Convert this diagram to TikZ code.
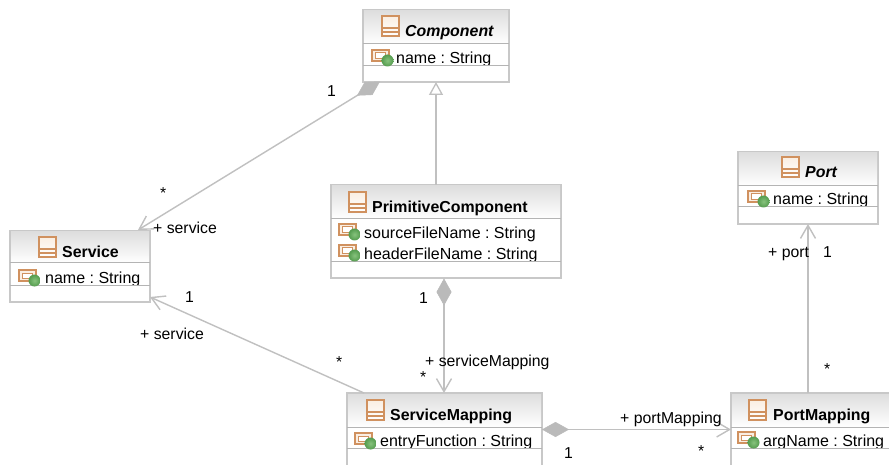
\documentclass[tikz,border=0pt]{standalone}
\usepackage{fontspec}
\setmainfont{Liberation Sans}
\usetikzlibrary{arrows.meta}
\definecolor{edgegray}{RGB}{192,192,192}
\definecolor{boxgray}{RGB}{200,200,200}
\definecolor{sepgray}{RGB}{180,180,180}
\definecolor{headgray}{RGB}{222,222,222}
\definecolor{iconorange}{RGB}{208,145,95}
\definecolor{iconfill}{RGB}{250,238,226}
\definecolor{dotgreen}{RGB}{84,155,78}
\definecolor{dotlight}{RGB}{135,195,125}
\definecolor{diagray}{RGB}{186,186,186}
\tikzset{
  classbox/.style={draw=boxgray,line width=1.3pt,fill=white,inner sep=0pt,outer sep=0pt,rectangle},
  sepline/.style={draw=sepgray,line width=1pt},
  conn/.style={draw=edgegray,line width=1.4pt},
  comp/.style={conn,{Diamond[fill=diagray,color=diagray,length=27pt,width=15pt,line width=0.5pt]}-{Straight Barb[length=13pt,width=15pt,line width=1.4pt,color=edgegray]}},
  assoc/.style={conn,-{Straight Barb[length=13pt,width=15pt,line width=1.4pt,color=edgegray]}},
  inherit/.style={conn,-{Triangle[open,fill=white,length=13pt,width=14pt,line width=1.3pt,color=edgegray]}},
  lbl/.style={font=\fontsize{15.8}{17}\selectfont,inner sep=0pt,anchor=base west,text=black,yshift=-0.8pt},
  title/.style={font=\fontsize{15.9}{17}\selectfont\bfseries,inner sep=0pt,anchor=base west,text=black,yshift=-0.8pt},
  ititle/.style={font=\fontsize{15.9}{17}\selectfont\bfseries\itshape,inner sep=0pt,anchor=base west,text=black,yshift=-0.8pt},
  attr/.style={font=\fontsize{16}{17}\selectfont,inner sep=0pt,anchor=base west,text=black,yshift=-0.8pt},
}
% id, x1, y1, x2, y2, yheader, yattr
\newcommand{\umlclass}[7]{%
  \pgfmathsetmacro{\bw}{#4-#2}\pgfmathsetmacro{\bh}{#5-#3}%
  \node[classbox,minimum width=\bw pt,minimum height=\bh pt] (#1) at ({(#2+#4)/2},{(#3+#5)/2}) {};
  \shade[top color=headgray,bottom color=white] (#2+1,#3+1) rectangle (#4-1,#6);
}
% finishes compartment: x1,x2,yheader,yattr,y2
\newcommand{\umlseps}[5]{%
  \fill[white] (#1+1,#4) rectangle (#2-1,#5-1);
  \draw[sepline] (#1,#3) -- (#2,#3);
  \draw[sepline] (#1,#4) -- (#2,#4);
}
% class icon at x,y top-left
\newcommand{\classicon}[2]{%
  \begin{scope}[shift={(#1,#2)}]
    \shade[top color=iconfill,bottom color=white] (0,0) rectangle (17,20);
    \draw[draw=iconorange,line width=1.1pt] (0,0) rectangle (17,20);
    \draw[draw=iconorange,line width=1.1pt] (0,12) -- (17,12) (0,16) -- (17,16);
  \end{scope}}
% attribute icon at x,y top-left
\newcommand{\attricon}[2]{%
  \begin{scope}[shift={(#1,#2)}]
    \draw[draw=iconorange,line width=1.3pt,fill=iconfill] (0,0) rectangle (17,11);
    \draw[draw=iconorange,line width=1pt,fill=white] (3.5,3) rectangle (13.5,8.5);
    \shade[inner color=dotlight,outer color=dotgreen] (15.5,10.5) circle (6);
  \end{scope}}
\begin{document}
\begin{tikzpicture}[x=1pt,y=-1pt]
\frenchspacing
\clip (0,0) rectangle (889,465);
\fill[white] (0,0) rectangle (889,465);

% Component
\umlclass{component}{363}{10}{509}{82}{44}{66}
\classicon{382}{16}
\node[ititle] (componentT) at (405,36) {Component};
\node[attr] (componentA) at (396,63) {name : String};
\umlseps{363}{509}{44}{66}{82}
\attricon{372}{50}

% Primitive component
\umlclass{primitive}{331}{185}{561}{278}{219}{262}
\classicon{349}{192}
\node[title] (primitiveT) at (372,212) {PrimitiveComponent};
\node[attr] (primitiveA) at (364,238) {sourceFileName : String};
\node[attr] (primitiveB) at (364,259) {headerFileName : String};
\umlseps{331}{561}{219}{262}{278}
\attricon{339}{224}
\attricon{339}{245}

% Service
\umlclass{service}{10}{231}{150}{302}{263}{285}
\classicon{39}{237}
\node[title] (serviceT) at (62,257) {Service};
\node[attr] (serviceA) at (45,283) {name : String};
\umlseps{10}{150}{263}{285}{302}
\attricon{19}{270}

% Port
\umlclass{port}{738}{152}{878}{224}{186}{207}
\classicon{782}{157}
\node[ititle] (portT) at (805,177) {Port};
\node[attr] (portA) at (773,204) {name : String};
\umlseps{738}{878}{186}{207}{224}
\attricon{748}{191}

% ServiceMapping
\umlclass{smap}{347}{393}{542}{475}{427}{448}
\classicon{367}{400}
\node[title] (smapT) at (390,420) {ServiceMapping};
\node[attr] (smapA) at (380,446) {entryFunction : String};
\umlseps{347}{542}{427}{448}{475}
\attricon{355}{433}

% PortMapping
\umlclass{pmap}{731}{393}{899}{475}{427}{448}
\classicon{749}{400}
\node[title] (pmapT) at (773,420) {PortMapping};
\node[attr] (pmapA) at (763,446) {argName : String};
\umlseps{731}{899}{427}{448}{475}
\attricon{738}{432}

% connector ends
\coordinate (c1a) at (380,81.5);
\coordinate (c1b) at (138,230);
\coordinate (c2a) at (436,185);
\coordinate (c2b) at (436,82);
\coordinate (c3a) at (444,278.5);
\coordinate (c3b) at (444,393);
\coordinate (c4a) at (364,393);
\coordinate (c4b) at (150,297);
\coordinate (c5a) at (542,429.5);
\coordinate (c5b) at (731,429.5);
\coordinate (c6a) at (808,393);
\coordinate (c6b) at (808,224);

\path[comp] (c1a) -- (c1b);
\path[inherit] (c2a) -- (c2b);
\path[comp] (c3a) -- (c3b);
\path[assoc] (c4a) -- (c4b);
\path[comp] (c5a) -- (c5b);
\path[assoc] (c6a) -- (c6b);

% labels
\node[lbl] (l1) at (327,96) {1};
\node[lbl] (l2) at (160,198) {*};
\node[lbl] (l3) at (153,233) {+ service};
\node[lbl] (l4) at (419,303) {1};
\node[lbl] (l5) at (425,366) {+ serviceMapping};
\node[lbl] (l6) at (420,382) {*};
\node[lbl] (l7) at (185,302) {1};
\node[lbl] (l8) at (140,339) {+ service};
\node[lbl] (l9) at (336,367) {*};
\node[lbl] (l10) at (620,423) {+ portMapping};
\node[lbl] (l11) at (564,458) {1};
\node[lbl] (l12) at (698,456) {*};
\node[lbl] (l13) at (768,257) {+ port};
\node[lbl] (l14) at (823,257) {1};
\node[lbl] (l15) at (824,374) {*};
\end{tikzpicture}
\end{document}
